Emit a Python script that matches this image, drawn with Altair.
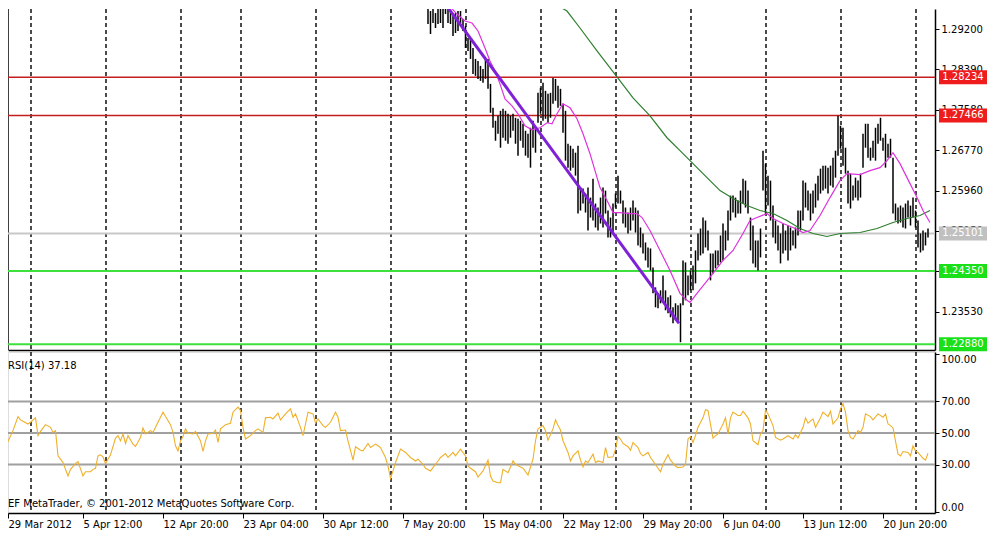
import altair as alt
import pandas as pd

FONT = "DejaVu Sans"

# ---------------- data (bar index on x, 4-hour bars) ----------------
X_TICKS = [2, 32, 64, 96, 128, 160, 192, 224, 256, 288, 320, 352]
X_LABELS = ["29 Mar 2012", "5 Apr 12:00", "12 Apr 20:00", "23 Apr 04:00",
            "30 Apr 12:00", "7 May 20:00", "15 May 04:00", "22 May 12:00",
            "29 May 20:00", "6 Jun 04:00", "13 Jun 12:00", "20 Jun 20:00"]
GRID_IDX = [11.2, 41.2, 71.2, 95.2, 125.2, 155.2, 185.2, 215.2, 245.2,
            275.2, 305.2, 335.2, 365.2]

PRICE_TICKS = [1.2920, 1.2839, 1.2758, 1.2677, 1.2596, 1.2515, 1.2434, 1.2353]
LEVEL_PRICES = [1.28234, 1.27466, 1.25101, 1.24350, 1.22880]
LEVEL_LINE_COLORS = ["#c41e1e", "#c41e1e", "#c8c8c8", "#3ee03e", "#3ee03e"]
LEVEL_BOX_COLORS = ["#ee1c1c", "#ee1c1c", "#c0c0c0", "#19e019", "#19e019"]
LEVEL_WIDTHS = [1.5, 1.5, 2, 2, 2]

BAR_IDX = [156, 157] + list(range(168, 371))
BAR_HIGH = [
    1.2988, 1.2992,
    1.2986, 1.2982, 1.2970, 1.2956, 1.2970, 1.2952, 1.2962, 1.2966, 1.2962, 1.2972,
    1.2966, 1.2956, 1.2946, 1.2952, 1.2956, 1.2956, 1.2940, 1.2926, 1.2902, 1.2900,
    1.2882, 1.2860, 1.2856, 1.2846, 1.2840, 1.2862, 1.2860, 1.2810, 1.2762, 1.2736,
    1.2746, 1.2756, 1.2760, 1.2756, 1.2750, 1.2746, 1.2750, 1.2742, 1.2740, 1.2736,
    1.2730, 1.2716, 1.2710, 1.2722, 1.2736, 1.2722, 1.2792, 1.2802, 1.2812, 1.2796,
    1.2790, 1.2792, 1.2822, 1.2820, 1.2806, 1.2800, 1.2770, 1.2756, 1.2690, 1.2686,
    1.2680, 1.2672, 1.2686, 1.2602, 1.2600, 1.2590, 1.2602, 1.2582, 1.2620, 1.2570,
    1.2562, 1.2582, 1.2602, 1.2596, 1.2556, 1.2542, 1.2570, 1.2590, 1.2626, 1.2596,
    1.2576, 1.2562, 1.2552, 1.2562, 1.2576, 1.2562, 1.2556, 1.2522, 1.2510, 1.2492,
    1.2482, 1.2480, 1.2442, 1.2402, 1.2390, 1.2396, 1.2426, 1.2396, 1.2382, 1.2386,
    1.2362, 1.2370, 1.2366, 1.2370, 1.2456, 1.2452, 1.2426, 1.2436, 1.2446, 1.2476,
    1.2510, 1.2520, 1.2542, 1.2536, 1.2516, 1.2470, 1.2470, 1.2476, 1.2476, 1.2506,
    1.2530, 1.2516, 1.2556, 1.2586, 1.2586, 1.2582, 1.2576, 1.2596, 1.2620, 1.2616,
    1.2596, 1.2542, 1.2526, 1.2496, 1.2496, 1.2520, 1.2676, 1.2650, 1.2626, 1.2616,
    1.2566, 1.2536, 1.2526, 1.2510, 1.2530, 1.2516, 1.2526, 1.2522, 1.2516, 1.2522,
    1.2556, 1.2556, 1.2616, 1.2612, 1.2596, 1.2590, 1.2596, 1.2610, 1.2626, 1.2640,
    1.2646, 1.2646, 1.2642, 1.2646, 1.2662, 1.2676, 1.2746, 1.2726, 1.2722, 1.2682,
    1.2636, 1.2630, 1.2606, 1.2622, 1.2616, 1.2630, 1.2710, 1.2730, 1.2730, 1.2682,
    1.2696, 1.2722, 1.2730, 1.2742, 1.2702, 1.2710, 1.2690, 1.2700, 1.2662, 1.2570,
    1.2562, 1.2566, 1.2562, 1.2570, 1.2576, 1.2566, 1.2582, 1.2556, 1.2536, 1.2510,
    1.2516, 1.2512, 1.2520,
]
BAR_LOW = [
    1.2968, 1.2972,
    1.2964, 1.2962, 1.2930, 1.2910, 1.2932, 1.2922, 1.2930, 1.2932, 1.2922, 1.2950,
    1.2932, 1.2930, 1.2906, 1.2912, 1.2916, 1.2932, 1.2916, 1.2882, 1.2876, 1.2860,
    1.2830, 1.2826, 1.2820, 1.2816, 1.2812, 1.2820, 1.2800, 1.2752, 1.2722, 1.2696,
    1.2710, 1.2682, 1.2702, 1.2696, 1.2690, 1.2702, 1.2716, 1.2690, 1.2666, 1.2696,
    1.2682, 1.2666, 1.2662, 1.2642, 1.2682, 1.2672, 1.2732, 1.2750, 1.2736, 1.2740,
    1.2732, 1.2742, 1.2770, 1.2776, 1.2762, 1.2766, 1.2712, 1.2656, 1.2642, 1.2636,
    1.2642, 1.2626, 1.2550, 1.2556, 1.2570, 1.2552, 1.2516, 1.2542, 1.2536, 1.2522,
    1.2516, 1.2530, 1.2522, 1.2550, 1.2502, 1.2502, 1.2510, 1.2562, 1.2570, 1.2570,
    1.2530, 1.2522, 1.2510, 1.2516, 1.2536, 1.2512, 1.2486, 1.2482, 1.2470, 1.2456,
    1.2442, 1.2436, 1.2390, 1.2362, 1.2360, 1.2370, 1.2376, 1.2356, 1.2350, 1.2342,
    1.2330, 1.2336, 1.2332, 1.2292, 1.2366, 1.2376, 1.2386, 1.2396, 1.2396, 1.2410,
    1.2456, 1.2466, 1.2470, 1.2482, 1.2476, 1.2416, 1.2430, 1.2440, 1.2446, 1.2452,
    1.2456, 1.2476, 1.2496, 1.2536, 1.2552, 1.2542, 1.2550, 1.2550, 1.2570, 1.2562,
    1.2550, 1.2476, 1.2450, 1.2442, 1.2436, 1.2462, 1.2596, 1.2550, 1.2566, 1.2536,
    1.2502, 1.2490, 1.2476, 1.2450, 1.2470, 1.2476, 1.2456, 1.2476, 1.2486, 1.2480,
    1.2506, 1.2516, 1.2536, 1.2562, 1.2556, 1.2536, 1.2550, 1.2562, 1.2576, 1.2590,
    1.2596, 1.2600, 1.2590, 1.2606, 1.2602, 1.2622, 1.2666, 1.2680, 1.2646, 1.2630,
    1.2570, 1.2560, 1.2576, 1.2582, 1.2576, 1.2582, 1.2642, 1.2682, 1.2662, 1.2656,
    1.2662, 1.2656, 1.2690, 1.2696, 1.2676, 1.2642, 1.2662, 1.2662, 1.2550, 1.2536,
    1.2530, 1.2532, 1.2522, 1.2520, 1.2542, 1.2526, 1.2542, 1.2522, 1.2482, 1.2472,
    1.2476, 1.2486, 1.2502,
]

MA_FAST_IDX = [174.8, 176.8, 181.6, 184.8, 187.6, 190.0, 192.8, 194.8, 196.8, 198.8,
               200.8, 203.6, 206.0, 208.8, 211.6, 214.8, 217.6, 219.6, 221.6, 224.0,
               226.8, 229.6, 232.0, 234.8, 236.8, 238.8, 241.6, 244.0, 246.8, 250.8,
               253.6, 255.6, 258.8, 262.8, 266.8, 270.8, 273.6, 274.8, 277.6, 280.8,
               284.0, 288.0, 292.0, 296.0, 298.8, 301.6, 305.6, 308.0, 312.0, 316.0,
               320.0, 322.8, 326.8, 330.8, 334.8, 337.6, 342.8, 346.8, 350.8, 353.6,
               356.0, 358.8, 361.6, 365.6, 368.0, 370.8]
MA_FAST_VAL = [1.2986, 1.2976, 1.2950, 1.2936, 1.2932, 1.2916, 1.2882, 1.2856, 1.2836, 1.2810,
               1.2780, 1.2766, 1.2750, 1.2726, 1.2718, 1.2722, 1.2732, 1.2730, 1.2750, 1.2770,
               1.2762, 1.2740, 1.2710, 1.2670, 1.2636, 1.2602, 1.2576, 1.2552, 1.2552, 1.2550,
               1.2550, 1.2542, 1.2516, 1.2476, 1.2436, 1.2390, 1.2376, 1.2372, 1.2390, 1.2410,
               1.2430, 1.2456, 1.2476, 1.2510, 1.2536, 1.2542, 1.2550, 1.2540, 1.2530, 1.2522,
               1.2512, 1.2516, 1.2546, 1.2582, 1.2616, 1.2630, 1.2628, 1.2636, 1.2642, 1.2656,
               1.2672, 1.2650, 1.2622, 1.2582, 1.2556, 1.2532]

MA_SLOW_IDX = [216.8, 218.8, 225.6, 230.8, 237.6, 245.6, 252.0, 258.8, 265.6, 270.8,
               276.0, 281.6, 286.8, 292.0, 297.6, 302.8, 308.0, 313.6, 318.8, 324.0,
               329.6, 334.8, 342.8, 349.6, 356.0, 361.6, 366.8, 370.8]
MA_SLOW_VAL = [1.2986, 1.2976, 1.2956, 1.2922, 1.2876, 1.2824, 1.2782, 1.2746, 1.2702, 1.2676,
               1.2650, 1.2622, 1.2596, 1.2580, 1.2566, 1.2556, 1.2550, 1.2536, 1.2520, 1.2510,
               1.2504, 1.2510, 1.2512, 1.2520, 1.2532, 1.2540, 1.2546, 1.2556]

TREND_IDX = [170.8, 270.4]
TREND_VAL = [1.3012, 1.2330]

RSI_IDX = [0, 2, 4, 6, 7, 8, 10, 11, 13, 14, 15, 17, 19, 20, 21, 22, 24, 26, 27, 29,
           30, 32, 33, 35, 36, 37, 38, 39, 40, 41, 43, 45, 46, 47, 48, 49, 50, 52, 53, 55,
           56, 57, 59, 60, 61, 63, 64, 65, 67, 68, 69, 70, 71, 72, 73, 74, 76, 77, 79, 80,
           81, 82, 84, 85, 86, 87, 89, 91, 92, 94, 95, 96, 97, 99, 101, 102, 104, 105, 107, 108,
           110, 111, 113, 115, 116, 117, 119, 120, 121, 122, 124, 125, 126, 128, 129, 131, 132, 133, 134, 135,
           137, 138, 140, 141, 143, 144, 146, 147, 149, 150, 151, 153, 154, 155, 156, 157, 159, 161, 163, 165,
           166, 168, 169, 171, 172, 174, 175, 177, 178, 180, 181, 183, 185, 186, 187, 189, 190, 192, 194, 195,
           196, 198, 199, 200, 202, 203, 204, 205, 207, 208, 210, 212, 213, 214, 216, 217, 218, 220, 221, 222,
           223, 224, 226, 227, 228, 230, 231, 232, 233, 234, 236, 237, 238, 240, 241, 242, 244, 245, 246, 247,
           248, 250, 251, 252, 254, 255, 256, 258, 259, 260, 262, 263, 264, 266, 267, 269, 270, 272, 273, 274,
           275, 276, 277, 278, 280, 281, 282, 284, 285, 286, 288, 289, 290, 291, 292, 294, 295, 296, 298, 299,
           300, 302, 303, 304, 305, 306, 308, 309, 311, 312, 314, 316, 317, 318, 320, 321, 322, 324, 325, 327,
           328, 330, 331, 332, 334, 335, 336, 337, 338, 339, 340, 342, 343, 344, 345, 347, 348, 350, 352, 353,
           354, 355, 356, 358, 359, 360, 362, 363, 364, 365, 366, 368, 369, 370]
RSI_VAL = [55.7, 44.7, 51.5, 60.4, 58.3, 57.4, 55.7, 56.8, 59.6, 48.3, 51.0, 55.3, 53.6, 50.4, 51.5, 35.5, 31.3, 22.8, 27.0, 30.6,
           31.9, 22.8, 25.5, 25.5, 27.0, 27.7, 35.5, 36.2, 34.9, 30.6, 36.2, 46.8, 48.3, 45.0, 49.4, 43.4, 48.3, 43.0, 41.5, 47.2,
           53.2, 49.4, 51.5, 50.4, 53.6, 60.0, 63.2, 60.4, 55.3, 50.4, 41.9, 38.7, 45.0, 47.7, 52.6, 49.8, 49.4, 51.0, 45.0, 38.3,
           45.0, 49.4, 49.8, 51.9, 44.0, 52.6, 55.3, 56.2, 63.2, 66.4, 64.3, 53.6, 46.2, 48.3, 51.5, 52.6, 50.4, 59.6, 60.0, 58.9,
           62.6, 58.3, 62.1, 65.3, 60.0, 62.1, 53.6, 48.3, 55.7, 63.2, 62.1, 56.2, 58.9, 54.7, 53.6, 56.8, 60.0, 63.2, 60.0, 51.5,
           51.9, 45.0, 32.8, 41.3, 39.1, 38.7, 43.4, 40.8, 43.0, 41.9, 40.8, 34.5, 29.1, 21.3, 26.0, 31.3, 39.8, 37.7, 34.5, 32.3,
           33.4, 30.2, 27.7, 26.0, 28.1, 32.3, 34.5, 37.0, 34.5, 37.7, 35.5, 39.8, 35.5, 29.1, 27.7, 25.5, 22.1, 26.0, 32.8, 22.8,
           19.6, 18.5, 18.5, 27.0, 24.9, 28.5, 32.3, 30.2, 28.5, 27.7, 23.4, 33.4, 45.1, 52.6, 54.7, 51.5, 45.5, 52.6, 58.3, 54.7,
           51.9, 45.1, 37.7, 32.3, 35.5, 38.7, 32.8, 28.5, 32.3, 31.3, 36.6, 31.3, 32.3, 31.3, 40.8, 34.5, 34.9, 39.8, 47.7, 46.2,
           43.4, 41.3, 39.1, 44.0, 40.8, 37.0, 35.5, 37.7, 34.5, 32.3, 27.7, 25.5, 30.2, 36.2, 32.8, 29.1, 28.1, 28.5, 30.2, 46.2,
           47.7, 44.0, 48.3, 53.6, 59.6, 64.7, 64.3, 46.8, 48.3, 49.4, 55.7, 59.6, 49.4, 59.6, 63.2, 61.1, 61.1, 63.8, 59.6, 55.7,
           45.1, 42.6, 49.4, 51.5, 64.7, 62.1, 54.7, 47.2, 45.5, 46.2, 48.3, 46.2, 48.9, 46.8, 53.6, 59.6, 56.2, 58.9, 53.6, 59.6,
           63.2, 60.4, 63.8, 55.7, 59.6, 65.3, 68.5, 63.2, 51.5, 47.2, 46.2, 51.5, 50.4, 53.6, 62.1, 60.4, 58.3, 62.1, 60.0, 62.1,
           55.7, 54.7, 53.2, 36.6, 35.5, 38.3, 37.7, 35.5, 41.9, 38.7, 37.7, 34.0, 32.8, 37.2]
RSI_LEVELS = [70, 50, 30]
RSI_TICKS = [0, 30, 50, 70, 100]
RSI_TITLE = "RSI(14) 37.18"
COPYRIGHT = "EF MetaTrader, \u00a9 2001-2012 MetaQuotes Software Corp."

# ---------------- tables ----------------
bars = pd.DataFrame({"t": BAR_IDX, "high": BAR_HIGH, "low": BAR_LOW})
fast = pd.DataFrame({"t": MA_FAST_IDX, "p": MA_FAST_VAL})
slow = pd.DataFrame({"t": MA_SLOW_IDX, "p": MA_SLOW_VAL})
trend = pd.DataFrame({"t": TREND_IDX, "p": TREND_VAL})
levels = pd.DataFrame({"p": LEVEL_PRICES, "line": LEVEL_LINE_COLORS,
                       "box": LEVEL_BOX_COLORS, "w": LEVEL_WIDTHS})
grid = pd.DataFrame({"t": GRID_IDX})
frame = pd.DataFrame({"t": [2]})
rsi = pd.DataFrame({"t": RSI_IDX, "v": RSI_VAL})
rsi_lv = pd.DataFrame({"v": RSI_LEVELS})
texts = pd.DataFrame({"txt": [RSI_TITLE]})
copy_t = pd.DataFrame({"txt": [COPYRIGHT]})

W = 927
H_PRICE = 341
H_RSI = 161

xs = alt.Scale(domain=[2, 372.8], nice=False, zero=False)
ys_p = alt.Scale(domain=[1.22764, 1.29601], nice=False, zero=False)
ys_r = alt.Scale(domain=[-0.63, 101.27], nice=False, zero=False)

x_price_axis = alt.Axis(orient="bottom", labels=False, ticks=False, domain=True,
                        domainColor="black", domainWidth=1.5, grid=False, title=None)
y_price_axis = alt.Axis(orient="right", values=PRICE_TICKS, format=".5f", title=None,
                        grid=False, tickSize=4, tickColor="black", domainColor="black",
                        domainWidth=1.5, labelColor="black", labelFont=FONT, labelFontSize=10,
                        labelPadding=2, labelOverlap=False, labelFlush=False)

XP = lambda f: alt.X(f, type="quantitative", scale=xs, axis=x_price_axis)
YP = lambda f: alt.Y(f, type="quantitative", scale=ys_p, axis=y_price_axis)

frame_p = alt.Chart(frame).mark_rule(color="black", strokeWidth=1.5).encode(x=XP("t"))
grid_p = alt.Chart(grid).mark_rule(color="#111111", strokeWidth=1.5, strokeDash=[4, 3]).encode(
    x=XP("t"))
lines_p = alt.Chart(levels).mark_rule().encode(
    y=YP("p"),
    color=alt.Color("line:N", scale=None),
    strokeWidth=alt.StrokeWidth("w:Q", scale=None))
bars_p = alt.Chart(bars).mark_rule(color="#000000", strokeWidth=1.5, clip=True).encode(
    x=XP("t"), y=YP("high"), y2="low")
slow_p = alt.Chart(slow).mark_line(color="#2f7f2f", strokeWidth=1.2, clip=True).encode(
    x=XP("t"), y=YP("p"))
fast_p = alt.Chart(fast).mark_line(color="#dd33dd", strokeWidth=1.2, clip=True).encode(
    x=XP("t"), y=YP("p"))
trend_p = alt.Chart(trend).mark_line(color="#7f22d6", strokeWidth=3, clip=True).encode(
    x=XP("t"), y=YP("p"))
boxes_p = alt.Chart(levels).mark_tick(orient="horizontal", size=48, thickness=14, opacity=1).encode(
    x=alt.value(W + 28), y=YP("p"), color=alt.Color("box:N", scale=None))
boxtxt_p = alt.Chart(levels).mark_text(color="white", font=FONT, fontSize=10,
                                       align="center", baseline="middle").encode(
    x=alt.value(W + 28), y=YP("p"), text=alt.Text("p:Q", format=".5f"))

price = alt.layer(frame_p, grid_p, lines_p, bars_p, slow_p, fast_p, trend_p, boxes_p, boxtxt_p).properties(
    width=W, height=H_PRICE, view=alt.ViewBackground(stroke=None))

label_js = "[" + ",".join("'%s'" % s for s in X_LABELS) + "]"
x_rsi_axis = alt.Axis(orient="bottom", values=X_TICKS, labelExpr=label_js + "[floor(datum.value/32)]",
                      labelAlign="left", labelBaseline="top", tickSize=5, tickColor="black",
                      domainColor="black", domainWidth=1.5, labelColor="black", labelFont=FONT,
                      labelFontSize=10, labelPadding=1, labelOverlap=False, labelFlush=False,
                      grid=False, title=None)
y_rsi_axis = alt.Axis(orient="right", values=RSI_TICKS, format=".2f", title=None, grid=False,
                      tickSize=4, tickColor="black", domainColor="black", domainWidth=1.5,
                      labelColor="black", labelFont=FONT, labelFontSize=10, labelPadding=2,
                      labelOverlap=False, labelFlush=3)

XR = lambda f: alt.X(f, type="quantitative", scale=xs, axis=x_rsi_axis)
YR = lambda f: alt.Y(f, type="quantitative", scale=ys_r, axis=y_rsi_axis)

grid_r = alt.Chart(grid).mark_rule(color="#111111", strokeWidth=1.5, strokeDash=[4, 3]).encode(
    x=XR("t"))
lv_r = alt.Chart(rsi_lv).mark_rule(color="#a0a0a0", strokeWidth=2).encode(y=YR("v"))
line_r = alt.Chart(rsi).mark_line(color="#efb02a", strokeWidth=1.1).encode(x=XR("t"), y=YR("v"))
title_r = alt.Chart(texts).mark_text(align="left", baseline="middle", font=FONT, fontSize=10,
                                     color="black").encode(
    x=alt.value(0), y=alt.value(14), text="txt:N")
copy_r = alt.Chart(copy_t).mark_text(align="left", baseline="middle", font=FONT, fontSize=10,
                                     color="black").encode(
    x=alt.value(0), y=alt.value(152), text="txt:N")

rsi_panel = alt.layer(grid_r, lv_r, line_r, title_r, copy_r).properties(width=W, height=H_RSI)

chart = alt.vconcat(price, rsi_panel, spacing=2, bounds="flush").properties(
    padding={"left": -8, "top": 0, "right": 0, "bottom": 0}
).configure_view(stroke="black", strokeWidth=1.5).configure(background="white")

chart.save("out.html", embed_options={"renderer": "svg", "actions": False})
